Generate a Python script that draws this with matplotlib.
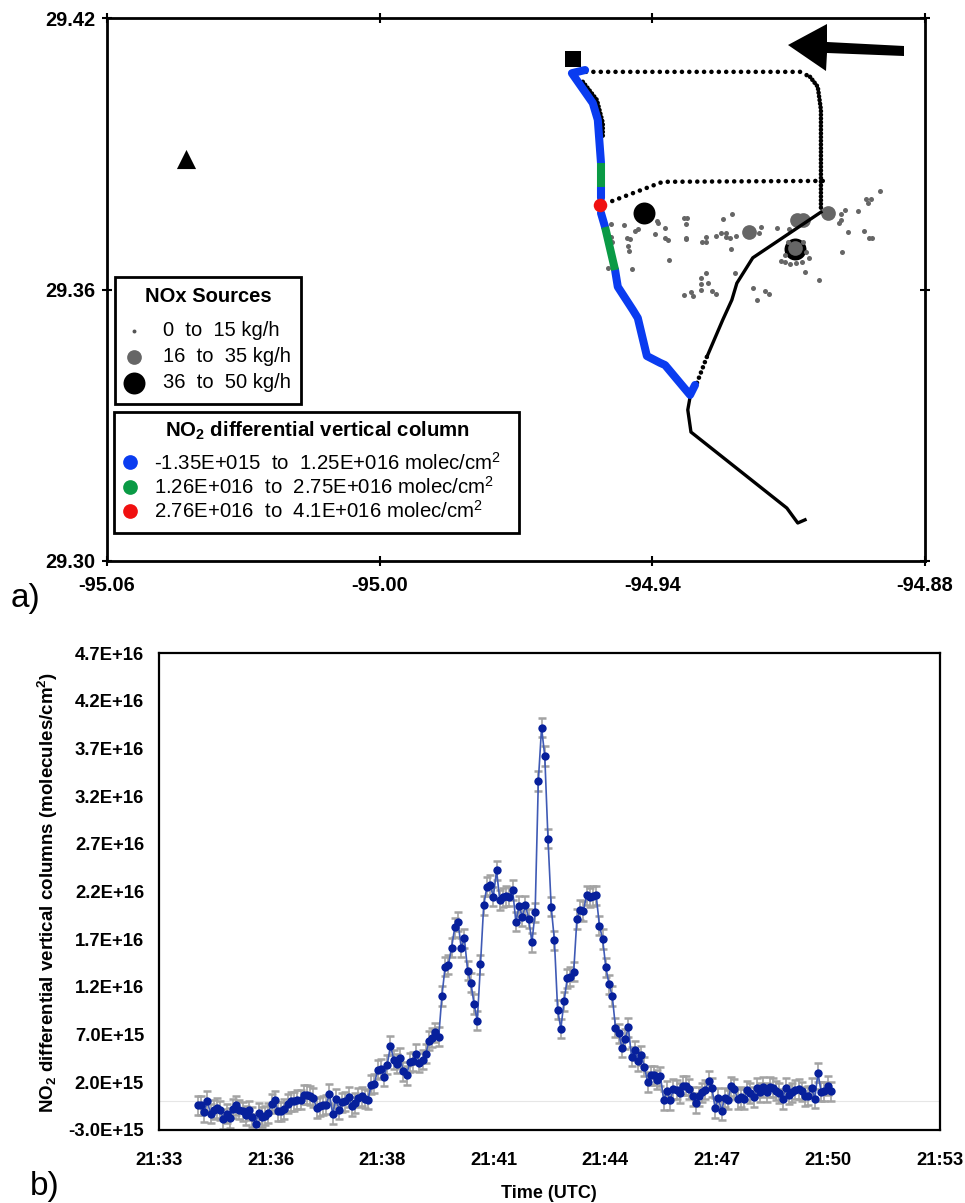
import numpy as np
import matplotlib
matplotlib.use("Agg")
import matplotlib.pyplot as plt
from matplotlib.patches import Polygon, Rectangle

plt.rcParams['font.family'] = ['Liberation Sans', 'DejaVu Sans']
plt.rcParams['mathtext.fontset'] = 'custom'
plt.rcParams['mathtext.rm'] = 'Liberation Sans'
plt.rcParams['mathtext.bf'] = 'Liberation Sans:bold'
plt.rcParams['mathtext.default'] = 'regular'

# panel a: map ticks
lon_ticks = [-95.06, -95.00, -94.94, -94.88]
lat_ticks = [29.30, 29.36, 29.42]

# NOx sources
small_lon = [-94.9490, -94.9463, -94.9439, -94.9431, -94.9389, -94.9387, -94.9373, -94.9395, -94.9455, -94.9450,
             -94.9373, -94.9365, -94.9453, -94.9451, -94.9492, -94.9488, -94.9497, -94.9444, -94.9363, -94.9331,
             -94.9323, -94.9325, -94.9326, -94.9325, -94.9281, -94.9290, -94.9281, -94.9259, -94.9248, -94.9238,
             -94.9238, -94.9228, -94.9216, -94.9244, -94.9224, -94.9226, -94.9160, -94.9165, -94.9126, -94.9099,
             -94.9281, -94.9292, -94.9294, -94.9277, -94.9292, -94.9268, -94.9261, -94.9330, -94.9314, -94.9310,
             -94.9217, -94.9178, -94.9153, -94.9143, -94.9170, -94.9065, -94.9033, -94.8983, -94.8969, -94.8935,
             -94.8923, -94.8916, -94.8990, -94.8984, -94.8984, -94.8975, -94.8947, -94.8929, -94.8925, -94.8918,
             -94.8900, -94.9055, -94.9116, -94.9109, -94.9098, -94.9083, -94.9071, -94.9101, -94.9068, -94.9061,
             -94.9109]
small_lat = [29.3745, 29.3742, 29.3730, 29.3733, 29.3752, 29.3746, 29.3736, 29.3722, 29.3713, 29.3711,
             29.3714, 29.3709, 29.3697, 29.3686, 29.3716, 29.3704, 29.3647, 29.3645, 29.3665, 29.3759,
             29.3759, 29.3744, 29.3713, 29.3711, 29.3716, 29.3705, 29.3705, 29.3719, 29.3725, 29.3725,
             29.3716, 29.3713, 29.3719, 29.3756, 29.3766, 29.3689, 29.3738, 29.3724, 29.3735, 29.3733,
             29.3636, 29.3626, 29.3612, 29.3615, 29.3599, 29.3597, 29.3591, 29.3587, 29.3595, 29.3585,
             29.3636, 29.3604, 29.3596, 29.3591, 29.3577, 29.3638, 29.3621, 29.3683, 29.3728, 29.3729,
             29.3714, 29.3714, 29.3748, 29.3753, 29.3766, 29.3776, 29.3774, 29.3801, 29.3792, 29.3801,
             29.3818, 29.3669, 29.3664, 29.3661, 29.3656, 29.3658, 29.3661, 29.3705, 29.3705, 29.3683,
             29.3676]
medium_lon = [-94.9188, -94.9082, -94.9068, -94.9013, -94.9087]
medium_lat = [29.3726, 29.3753, 29.3753, 29.3768, 29.3691]
large_lon = [-94.9419, -94.9085]
large_lat = [29.3770, 29.3689]

# sites
square_lon, square_lat = -94.9575, 29.4109
triangle_lon, triangle_lat = -95.0426, 29.3888

# flight track, black parts
top_lon = [-94.9546, -94.9075, -94.9053]
top_lat = [29.4081, 29.4081, 29.4070]
right_lon = [-94.9053, -94.9036, -94.9029, -94.9029]
right_lat = [29.4070, 29.4048, 29.3997, 29.3776]
mid_lon = [-94.9025, -94.9377, -94.9500]
mid_lat = [29.3840, 29.3838, 29.3791]
side_lon = [-94.9553, -94.9522, -94.9509, -94.9509]
side_lat = [29.4059, 29.4019, 29.3968, 29.3937]
solid_lon = [-94.9029, -94.9179, -94.9214, -94.9225, -94.9245, -94.9280]
solid_lat = [29.3771, 29.3670, 29.3614, 29.3577, 29.3533, 29.3451]
gap_lon = [-94.9280, -94.9302]
gap_lat = [29.3451, 29.3393]
south_lon = [-94.9317, -94.9322, -94.9315, -94.9104, -94.9080, -94.9064]
south_lat = [29.3362, 29.3334, 29.3285, 29.3117, 29.3084, 29.3091]

# flight track, coloured by NO2 column
blue_parts = [
    ([-94.9548, -94.9577, -94.9531, -94.9520, -94.9513], [29.4085, 29.4078, 29.4012, 29.3975, 29.3880]),
    ([-94.9513, -94.9513], [29.3827, 29.3802]),
    ([-94.9513, -94.9504], [29.3769, 29.3738]),
    ([-94.9482, -94.9476, -94.9443, -94.9432, -94.9412, -94.9383, -94.9372, -94.9317, -94.9306],
     [29.3643, 29.3606, 29.3555, 29.3537, 29.3453, 29.3438, 29.3433, 29.3367, 29.3389]),
]
green_parts = [
    ([-94.9513, -94.9513], [29.3880, 29.3827]),
    ([-94.9504, -94.9482], [29.3738, 29.3643]),
]
red_lon, red_lat = -94.9515, 29.3787

# panel b: NO2 columns, 1E+15 molecules/cm2
no2_values = [
    -0.41, -0.41, -1.15, 0.04, -1.29, -0.87, -0.69, -0.94, -1.85, -1.29,
    -1.74, -0.76, -0.41, -0.87, -1.04, -1.46, -0.94, -1.64, -2.34, -1.22,
    -1.64, -1.50, -1.22, -0.24, 0.11, -1.04, -1.04, -0.80, -0.24, 0.00,
    0.00, 0.18, 0.18, 0.71, 0.71, 0.60, 0.36, -0.69, -0.52, -0.41,
    -0.34, 0.81, -1.32, 0.29, -0.87, -0.10, 0.00, 0.46, -0.52, -0.17,
    0.36, 0.53, 0.29, 0.18, 1.76, 1.86, 3.33, 3.40, 2.56, 3.85,
    5.85, 4.38, 3.96, 4.55, 3.15, 2.73, 4.10, 4.20, 4.97, 4.03,
    4.38, 5.00, 6.37, 6.65, 7.24, 6.76, 11.05, 14.12, 14.30, 16.11,
    18.24, 18.84, 16.11, 17.09, 13.70, 12.44, 10.21, 8.43, 14.37, 20.55,
    22.51, 22.68, 21.46, 24.22, 21.11, 21.39, 21.53, 21.46, 22.16, 18.84,
    20.48, 19.36, 20.55, 19.15, 16.67, 19.82, 33.58, 39.17, 36.20, 27.54,
    20.38, 16.88, 9.61, 7.62, 10.49, 12.90, 13.07, 13.60, 19.12, 20.06,
    19.96, 21.60, 21.39, 21.53, 21.60, 18.42, 17.02, 14.05, 12.27, 11.05,
    7.73, 7.13, 5.63, 6.54, 7.76, 4.66, 5.36, 4.20, 4.83, 3.61,
    2.03, 2.73, 2.73, 2.28, 2.63, 0.11, 1.09, 0.11, 1.30, 1.23,
    0.88, 1.65, 1.65, 1.30, 0.53, -0.17, 0.53, 0.95, 1.23, 2.17,
    1.41, -0.69, 0.36, -0.97, 0.36, 0.18, 1.58, 1.30, 0.25, 0.46,
    0.25, 1.16, 0.88, 0.46, 1.41, 0.95, 1.51, 0.95, 1.51, 1.41,
    1.13, 0.88, 0.25, 1.41, 0.71, 0.95, 1.23, 1.30, 1.06, 0.53,
    0.60, 1.41, 0.29, 2.98, 0.99, 1.06, 1.65, 1.06,
]
no2_error = 1.0
y_ticks = [-3, 2, 7, 12, 17, 22, 27, 32, 37, 42, 47]
y_labels = ["-3.0E+15", "2.0E+15", "7.0E+15", "1.2E+16", "1.7E+16", "2.2E+16",
            "2.7E+16", "3.2E+16", "3.7E+16", "4.2E+16", "4.7E+16"]
# time axis, minutes after the first tick; samples come at a regular rate
time_labels = ["21:33", "21:36", "21:38", "21:41", "21:44", "21:47", "21:50", "21:53"]
tick_step = 2.8
first_sample = 0.97
last_sample = 16.86

W, H = 965, 1203
fig = plt.figure(figsize=(W / 100, H / 100), dpi=100, facecolor='white')


def axes_box(left, top, right, bottom):
    return [left / W, 1 - bottom / H, (right - left) / W, (bottom - top) / H]


# ---- panel a
ax = fig.add_axes(axes_box(107, 18, 925, 561))
ax.scatter(large_lon, large_lat, s=250, c='black', linewidths=0, zorder=2)
ax.scatter(medium_lon, medium_lat, s=112, c='#666666', linewidths=0, zorder=2.1)
ax.scatter(small_lon, small_lat, s=13, c='#666666', linewidths=0, zorder=2.2)

dots = dict(color='black', lw=3.3, dash_capstyle='round', zorder=3)
ax.plot(top_lon, top_lat, ls=(0, (0.01, 1.6)), **dots)
ax.plot(right_lon, right_lat, ls=(0, (0.01, 0.8)), **dots)
ax.plot(mid_lon, mid_lat, ls=(0, (0.01, 1.6)), **dots)
ax.plot(side_lon, side_lat, ls=(0, (0.01, 0.8)), **dots)
ax.plot(gap_lon, gap_lat, ls=(0, (0.01, 1.2)), **dots)
ax.plot(solid_lon, solid_lat, color='black', lw=2.4, zorder=3)
ax.plot(south_lon, south_lat, color='black', lw=2.4, zorder=3)

for part_lon, part_lat in blue_parts:
    ax.plot(part_lon, part_lat, color='#0a3cf0', lw=5.8, solid_capstyle='round', zorder=4)
for part_lon, part_lat in green_parts:
    ax.plot(part_lon, part_lat, color='#0a9a45', lw=5.8, solid_capstyle='butt', zorder=4.1)
ax.scatter([red_lon], [red_lat], s=95, c='#f01010', linewidths=0, zorder=4.2)
ax.scatter([square_lon], [square_lat], s=130, marker='s', c='black', linewidths=0, zorder=5)
ax.scatter([triangle_lon], [triangle_lat], s=190, marker='^', c='black', linewidths=0, zorder=5)

ax.set_xlim(-95.06, -94.88)
ax.set_ylim(29.30, 29.42)
ax.set_xticks(lon_ticks)
ax.set_xticklabels([f"{v:.2f}" for v in lon_ticks], fontweight='bold', fontsize=14.4)
ax.set_yticks(lat_ticks)
ax.set_yticklabels([f"{v:.2f}" for v in lat_ticks], fontweight='bold', fontsize=14.4)
ax.tick_params(axis='both', direction='inout', length=7, width=1.5, top=True, right=True)
ax.tick_params(axis='x', pad=7.3)
ax.tick_params(axis='y', pad=5.2)
for spine in ax.spines.values():
    spine.set_linewidth(2)

# ---- panel b
ax2 = fig.add_axes(axes_box(159, 653, 940, 1130))
times = np.linspace(first_sample, last_sample, len(no2_values))
ax2.axhline(0, color='#e6e6e6', lw=0.8, zorder=1)
ax2.errorbar(times, no2_values, yerr=no2_error, fmt='none', ecolor='#a3a3a3', elinewidth=1.2,
             capsize=3.2, capthick=1.8, zorder=2)
ax2.plot(times, no2_values, color='#3f5ab5', lw=1.2, marker='o', markersize=6, markerfacecolor='#07209c',
         markeredgecolor='#07209c', markeredgewidth=0, zorder=3)
ax2.set_xlim(0, tick_step * 7)
ax2.set_ylim(-3, 47)
ax2.set_xticks([tick_step * i for i in range(len(time_labels))])
ax2.set_xticklabels(time_labels, fontweight='bold', fontsize=13.3)
ax2.set_yticks(y_ticks)
ax2.set_yticklabels(y_labels, fontweight='bold', fontsize=13.3)
ax2.tick_params(axis='y', length=0, pad=10.8)
ax2.tick_params(axis='x', length=0, pad=16)
for spine in ax2.spines.values():
    spine.set_linewidth(1.6)

# ---- everything placed by hand, in pixels
over = fig.add_axes([0, 0, 1, 1], zorder=10, facecolor='none')
over.set_xlim(0, W)
over.set_ylim(H, 0)
over.axis('off')

over.add_patch(Polygon([(788, 45), (827, 24), (827, 42), (904, 46), (904, 56), (827, 53), (826, 71)],
                       closed=True, fc='black', ec='none'))

over.text(11, 598, "a)", fontsize=24, va='center')
over.text(30, 1187, "b)", fontsize=24, va='center')
over.text(549, 1193, "Time (UTC)", fontsize=13, fontweight='bold', ha='center', va='center')
over.text(48, 892, r"NO$_{\mathbf{2}}$ differential vertical columns (molecules/cm$^{\mathbf{2}}$)",
          fontsize=13.5, fontweight='bold', rotation=90, ha='center', va='center')

over.add_patch(Rectangle((115, 277), 186, 127, fc='white', ec='black', lw=2))
over.text(208, 297, "NOx Sources", fontsize=14.5, fontweight='bold', ha='center', va='center')
over.scatter([134], [331], s=8, c='#555555', linewidths=0)
over.scatter([134], [357], s=112, c='#666666', linewidths=0)
over.scatter([134], [383], s=250, c='black', linewidths=0)
over.text(163, 331, "0  to  15 kg/h", fontsize=14.5, va='center')
over.text(163, 357, "16  to  35 kg/h", fontsize=14.5, va='center')
over.text(163, 383, "36  to  50 kg/h", fontsize=14.5, va='center')

over.add_patch(Rectangle((114, 412), 405, 121, fc='white', ec='black', lw=2))
over.text(317, 431, r"NO$_{\mathbf{2}}$ differential vertical column", fontsize=14.7, fontweight='bold',
          ha='center', va='center')
over.scatter([130], [462], s=112, c='#0a3cf0', linewidths=0)
over.scatter([130], [487], s=112, c='#0a9a45', linewidths=0)
over.scatter([130], [511], s=112, c='#f01010', linewidths=0)
over.text(154, 463, "-1.35E+015  to  1.25E+016 molec/cm$^{2}$", fontsize=14.7, va='center')
over.text(154, 487, "1.26E+016  to  2.75E+016 molec/cm$^{2}$", fontsize=14.7, va='center')
over.text(154, 511, "2.76E+016  to  4.1E+016 molec/cm$^{2}$", fontsize=14.7, va='center')

fig.savefig("out.png", dpi=100)
